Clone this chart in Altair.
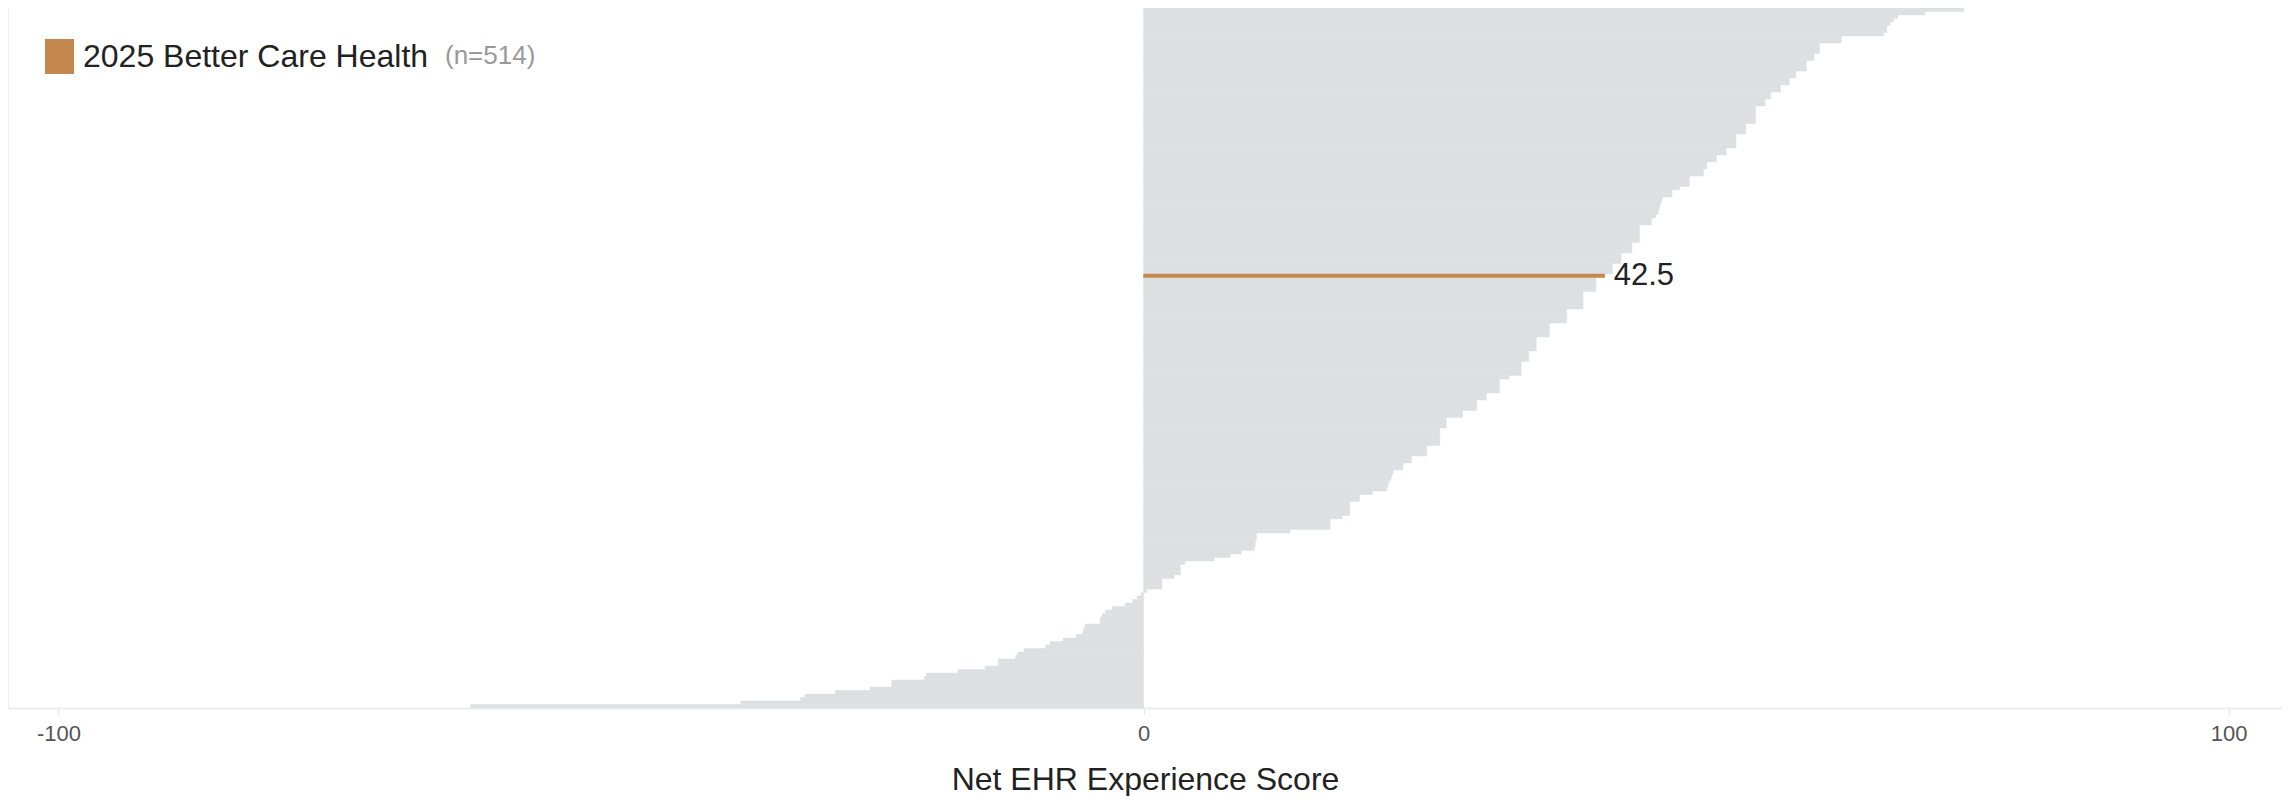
import altair as alt
import pandas as pd

# Net EHR experience score of every organisation, sorted from highest to lowest
scores = [
    75.6, 72.0, 69.5, 69.1, 68.8, 68.5, 68.5, 68.2, 64.3, 64.3,
    62.3, 62.3, 62.3, 61.8, 61.8, 61.1, 61.1, 61.1, 60.1, 60.1,
    59.5, 59.5, 58.7, 58.7, 57.8, 57.8, 57.3, 57.3, 56.4, 56.4,
    56.4, 56.4, 56.4, 55.5, 55.5, 55.5, 54.6, 54.6, 54.6, 54.6,
    53.7, 53.7, 52.8, 52.8, 51.9, 51.9, 51.6, 51.6, 50.3, 50.3,
    50.3, 49.4, 48.7, 48.7, 47.8, 47.7, 47.6, 47.5, 47.4, 47.2,
    46.8, 46.8, 45.7, 45.7, 45.7, 45.7, 45.7, 45.0, 45.0, 45.0,
    44.0, 44.0, 44.0, 43.2, 43.2, 43.2, 42.5, 41.7, 41.7, 41.7,
    41.7, 40.5, 40.5, 40.5, 40.5, 40.5, 39.0, 39.0, 39.0, 39.0,
    37.4, 37.4, 37.4, 37.4, 36.2, 36.2, 36.2, 36.2, 35.5, 35.5,
    35.5, 34.8, 34.8, 34.8, 34.8, 33.7, 32.8, 32.8, 32.8, 32.8,
    31.6, 31.6, 30.7, 30.7, 30.7, 29.4, 29.4, 27.9, 27.9, 27.9,
    27.3, 27.3, 27.3, 27.3, 27.3, 26.1, 26.1, 26.1, 24.7, 24.7,
    23.9, 23.9, 23.0, 22.9, 22.8, 22.6, 22.5, 22.4, 21.1, 19.9,
    19.9, 19.0, 19.0, 19.0, 19.0, 18.3, 17.2, 17.2, 17.2, 13.5,
    10.4, 10.4, 10.3, 10.3, 10.2, 9.0, 8.0, 6.5, 3.8, 3.4,
    3.4, 3.4, 2.8, 1.7, 1.7, 1.7, 0.3, -0.2, -0.6, -1.0,
    -1.7, -2.9, -3.5, -3.8, -4.0, -4.0, -5.4, -5.5, -5.6, -6.2,
    -7.4, -8.6, -9.0, -11.0, -11.6, -11.8, -13.4, -13.4, -14.6, -17.1,
    -20.0, -20.2, -23.2, -23.2, -25.2, -28.4, -31.2, -31.6, -37.1, -62.0,
]

highlight_name = "2025 Better Care Health"
highlight_score = 42.5
peer_name = "Other organisations"
n_label = "(n=514)"
axis_title = "Net EHR Experience Score"
tick_values = [-100, 0, 100]

groups = [peer_name, highlight_name]
colors = ["#dde0e3", "#c4884f"]
FONT = "Liberation Sans"

df = pd.DataFrame({"rank": list(range(len(scores))), "score": scores})
df["group"] = [highlight_name if s == highlight_score else peer_name for s in scores]
# draw the highlighted organisation last so it sits on top
df = pd.concat([df[df["group"] == peer_name], df[df["group"] == highlight_name]])

y_enc = alt.Y(
    "rank:O",
    scale=alt.Scale(domain=list(range(len(scores))), paddingInner=0, paddingOuter=0),
    axis=alt.Axis(labels=False, ticks=False, title=None, grid=False,
                  domainColor="#eeeeee", domainWidth=1),
)
x_enc = alt.X(
    "score:Q",
    scale=alt.Scale(domain=[-104.65, 104.92], nice=False, zero=False),
    axis=alt.Axis(
        values=tick_values, title=axis_title, grid=False,
        domainColor="#ececec", domainWidth=2,
        tickColor="#e3e3e3", tickSize=6, tickWidth=1,
        labelFontSize=22, labelColor="#555555", labelPadding=9, labelFont=FONT,
        labelFlush=False, labelExpr="toString(datum.value)",
        titleFontSize=32, titleFont=FONT, titleColor="#222222",
        titleFontWeight="normal", titleBaseline="alphabetic", titleY=81,
    ),
)

base = alt.Chart(df)

bars = base.mark_bar(strokeWidth=0.5).encode(
    x=x_enc,
    y=y_enc,
    color=alt.Color(
        "group:N",
        scale=alt.Scale(domain=groups, range=colors),
        legend=alt.Legend(
            title=None, orient="none", legendX=34, legendY=31,
            values=[highlight_name],
            symbolType="M-0.83,-1L0.83,-1L0.83,1L-0.83,1Z",
            symbolSize=1225, symbolStrokeWidth=0, symbolOpacity=1,
            labelFontSize=32, labelColor="#222222", labelFont=FONT,
            labelOffset=6, padding=0, labelLimit=0,
        ),
    ),
    stroke=alt.Stroke("group:N", scale=alt.Scale(domain=groups, range=colors), legend=None),
)

value_label = base.transform_filter(alt.datum.group == highlight_name).mark_text(
    align="left", baseline="middle", dx=9, fontSize=31, font=FONT, color="#222222"
).encode(
    x="score:Q",
    y=alt.Y("rank:O"),
    text=alt.Text("score:Q", format=".1f"),
)

n_text = alt.Chart(pd.DataFrame({"label": [n_label]})).mark_text(
    align="left", baseline="middle", fontSize=26, font=FONT, color="#999999"
).encode(
    x=alt.value(437),
    y=alt.value(48),
    text="label:N",
)

chart = alt.layer(bars, value_label, n_text).properties(
    width=2274,
    height=700,
    autosize=alt.AutoSizeParams(type="none"),
    padding={"left": 0, "top": 0, "right": 0, "bottom": 88},
    background="white",
).configure_view(stroke=None)

chart.save("out.html", embed_options={"renderer": "svg", "actions": False})
